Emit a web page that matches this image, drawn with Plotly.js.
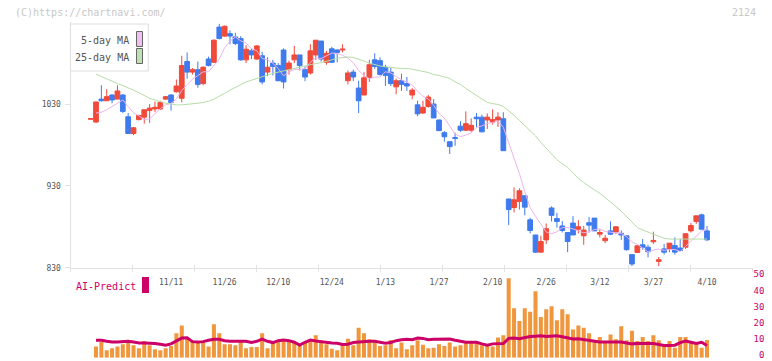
<!DOCTYPE html>
<html><head><meta charset="utf-8">
<script src="https://cdn.plot.ly/plotly-3.0.1.min.js"></script>
<style>html,body{margin:0;padding:0;background:#fff;}#chart{width:772px;height:361px;}</style>
</head><body><div id="chart"></div>
<script>
// ---- data (first entry is a lone doji before the visible window) ----
const dateLabels = ['11/11','11/26','12/10','12/24','1/13','1/27','2/10','2/26','3/12','3/27','4/10'];
const dateLabelDay = [15,25,35,45,55,65,75,85,95,105,115];

const open = [1011.5,
 1008,1036,1034,1041,1036,1041,1014.5,994,1011,1014,
 1022,1024,1024,1036,1041,1045,1037,1082,1069,1072,
 1055,1085,1081,1124,1113,1116,1112,1110,1084,1095,
 1085,1089,1069,1080,1077,1096,1072,1084,1090,1072,
 1068,1090,1107,1081,1097.5,1096,1096,1058.5,1069,1049.5,
 1041,1062.5,1084,1083,1075,1069,1051,1058.5,1055,1041,
 1029,1019,1027,1030,1010.5,995,984,989,1003,998,
 998,1014,1014,1010.5,1008,1010.5,1012,914,903.6,911,
 918,888.5,870,849,864,903,890,881,873,884.5,
 877,869,885,890.6,871,863,875,873.5,872,869,
 846,848.7,858,855,861.7,837.7,853,853,857,854,
 855,875,886.5,894.6,875];
const high = [1012,
 1033,1053,1048,1042,1053,1042,1019,1002,1017,1023,
 1030,1033,1034,1040,1042,1060,1089,1093,1074,1082,
 1076,1088,1109,1128,1126,1120,1117,1113,1102,1098,
 1102,1094,1087,1084,1080,1098,1083,1101,1090,1076,
 1103,1108,1107,1095,1100,1097,1103,1071,1072,1058.5,
 1069,1084,1092,1087,1078,1075,1061,1067,1063,1049.5,
 1034,1034,1041,1036,1011,997,984,995,1009,1021,
 1012.5,1019,1017,1018.6,1023.5,1020,1020,914,928,927,
 918,891,870,869,884,905,897,887,873,893,
 888,881,892,890.6,877,870,886.5,881,875.5,869,
 846,857,865,858,874,843,859,860,867,865,
 872,884.5,893.4,896,881];
const low = [1011.5,
 1007,1033,1034,1031,1036,1019,994,992,1010,1006,
 1007,1020,1023,1035,1022,1044,1032,1061,1066,1050,
 1053,1076,1080,1109,1112,1103,1102,1083,1080,1085,
 1084,1054,1064,1065,1058,1049,1066,1080,1071,1058,
 1066,1084,1082,1078,1080,1081,1093,1054,1058,1019,
 1041,1057,1073,1065,1052,1052,1042,1046,1046,1036,
 1015,1018,1025.5,1013,997,984,969,979,996,997,
 996,1001.5,996,999.5,1005,1002,973,882,897.5,901,
 894,872,848,849,859,886.5,879,873,849,870,
 872,858,873,875,867,860,870,871,864,851,
 832,848,852,842.6,859,832,846,849,846,850,
 853,873,883.6,877,863];
const close = [1012,
 1032.5,1034,1039,1035,1046,1021,994,1001,1016,1023,
 1025,1026,1032,1039,1032,1052,1077,1069,1072,1054,
 1075,1077,1108,1110,1125,1113,1104,1084,1097,1090,
 1101,1057,1075,1076,1058.5,1057,1080,1090,1077,1063,
 1095,1108,1085,1092,1081,1093,1097,1068,1063,1034,
 1062,1078,1076,1066,1065,1055,1058.5,1054,1052,1047,
 1018,1026,1038.5,1013,997.5,990,978,988,998,1006,
 1004,1012,996,1014,1011,1014,973,901,913,924,
 904,875.5,849,862,877.6,894,886.5,875.5,862,870,
 880,876,882,875,873,866,871,880,870,852,
 834.5,856.8,855,849.5,863.3,839.7,849,860,849,851,
 871.5,881.6,893.4,877,864];
const ma5 = [null,
 1019,1020,1023,1027,1032,1035,1027,1019.4,1015.6,1011,
 1011.8,1018.2,1024.4,1029,1030.8,1036.2,1046.4,1053.8,1060.4,1064.8,
 1069.4,1069.4,1077.2,1084.8,1099,1106.6,1112,1107.2,1104.6,1097.6,
 1095.2,1085.8,1084,1079.8,1073.4,1064.6,1069.2,1072.2,1072.4,1073.4,
 1081,1086.6,1085.6,1088.6,1092.2,1091.8,1089.6,1086.2,1080.4,1071,
 1064.8,1061,1062.6,1063.2,1069.4,1068,1064,1059.6,1056.8,1053.2,
 1045.8,1039.4,1036.2,1028.4,1018.4,1012.8,1003.2,993.2,990.2,992,
 994.8,1001.6,1003.2,1006.4,1007.4,1009.4,1001.6,982.6,962.4,945,
 923,903.4,893,882.8,873.6,871.6,873.8,879,879,877.4,
 874.6,872.6,874,876.6,877.2,874.4,873.4,873,872,867.8,
 861.4,858.6,853.6,849.4,851.6,852.8,851.2,852.2,852.2,849.8,
 856,862.6,869.2,874.8,877.4];
const ma25 = [null,
 1066.6,1063.5,1060.5,1057.5,1055,1052.5,1050,1047,1044,1040.5,
 1037,1035,1033,1031,1030,1029,1029,1029.5,1030,1031,
 1032,1033.5,1036,1039,1043,1047,1050.5,1054.5,1057,1059,
 1061.5,1063.5,1065.5,1067.5,1069,1070.5,1072.5,1074,1075.5,1077,
 1078.5,1079.5,1080.5,1082,1084,1086,1087,1087.5,1087,1085,
 1082.5,1080,1078,1076.5,1075.5,1074.5,1074,1073.5,1073.5,1072.5,
 1071,1069.5,1068.5,1066,1065,1063,1061.3,1057,1054,1049,
 1045,1041,1036,1032,1030.5,1029.5,1027,1022,1016,1010,
 1004,998,991,983,976,969,962,957,952.5,946,
 939,934,929,925,921,916,911,905,899,893,
 886,879,876,873.5,871,868,866,865,865,865,
 865,865,865,865,865];
const volume = [null,
 7.0,9.7,4.7,5.8,7.0,8.3,10.8,7.7,5.8,10.4,
 7.7,5.2,4.6,5.8,7.2,15.2,20.1,12.8,10.2,9.4,
 9.4,6.9,20.8,15.2,8.3,8.3,7.7,9.7,5.8,6.6,
 6.6,15.2,5.8,9.4,10,10.8,10.4,9.4,8.3,9.4,
 10.8,13.9,10.4,8.3,5.6,4.7,7.7,11.8,7.7,18.7,
 15.2,11.4,9.7,7.2,7.7,11,5.8,9.4,5.2,7.7,
 10.8,8.1,5.8,6.2,8.3,7.2,9.4,6.9,7.7,9.4,
 10.4,9.7,7.7,7.7,6.9,12.5,13.9,49.4,30.7,22.8,
 30.7,28.6,41.3,25.3,30.1,32,23.3,30.1,27,17.6,
 20.1,18.7,15.2,10.8,12.8,10.4,14.5,11.4,19.5,10.8,
 16.7,10.4,12.8,10.4,13.9,10.8,7.7,10.4,6.2,12.8,
 12.8,9.4,9.4,6.2,11];
const aiPredict = [null,
 10.8,10.8,10.2,9.7,9.7,10,10.2,9.7,9.2,9.2,
 9.2,8.8,8.3,7.7,8.6,10.2,12.2,12.4,10,9.7,
 10,10.8,11.5,11.5,10.6,10.2,10.2,10.2,10.2,9.4,
 10.2,11.6,10.2,9.4,10.6,11,10.6,9.6,7.8,9.6,
 11,10.4,10,9.2,9.2,9,8.2,8.4,9.4,9.8,
 10.2,10.2,10.2,9.8,9,9.4,10.6,11.2,11.5,11.2,
 12.2,12,11.2,11.4,11.6,11.6,11.6,10.8,10,9.6,
 9.6,9.6,8.6,7.8,8.6,8.8,8.8,12,12.2,11.8,
 12.6,13.2,13.4,13.6,13.2,13.2,13.6,13,12.2,11.6,
 11.8,11.2,10.6,10,9.8,9.8,9.8,10.2,9.8,9.2,
 8.6,8.8,8.8,8.8,8.8,8.2,7.6,7.6,7.8,9.4,
 10.4,9.6,8.8,9.6,7.6];
const priceTicks = [830, 930, 1030];
const volTicks = [0, 10, 20, 30, 40, 50];
const volTickText = ['\u20070', '10', '20', '30', '40', '50'];

// ---- layout helpers ----
const W = 772, H = 361;
const px = v => v / W, py = v => 1 - v / H;
const day = open.map((_, k) => k);
const xRange = [-3.76, 123.49];
const markVals = [];
for (let k = 0; k <= 11; k++) markVals.push(xRange[0] + k * (xRange[1] - xRange[0]) / 11);
const mono = 'DejaVu Sans Mono';
const xDom = [px(70.5), px(752.5)];
const RED = '#f04a3a', BLUE = '#3f7bee';

const traces = [
  {type: 'candlestick', x: day, open, high, low, close, xaxis: 'x', yaxis: 'y',
   increasing: {line: {color: RED, width: 1}, fillcolor: RED},
   decreasing: {line: {color: BLUE, width: 1}, fillcolor: BLUE},
   whiskerwidth: 0, hoverinfo: 'skip', showlegend: false},
  {type: 'scatter', mode: 'lines', x: day, y: ma5, xaxis: 'x3', yaxis: 'y',
   line: {color: '#ecb4ec', width: 1}, hoverinfo: 'skip', showlegend: false},
  {type: 'scatter', mode: 'lines', x: day, y: ma25, xaxis: 'x4', yaxis: 'y',
   line: {color: '#b6dca6', width: 1}, hoverinfo: 'skip', showlegend: false},
  {type: 'bar', x: day, y: volume, xaxis: 'x2', yaxis: 'y2',
   marker: {color: '#f0963c', line: {width: 0}}, hoverinfo: 'skip', showlegend: false},
  {type: 'scatter', mode: 'lines', x: day, y: aiPredict, xaxis: 'x2', yaxis: 'y2',
   line: {color: '#cc0066', width: 3}, hoverinfo: 'skip', showlegend: false}
];

const layout = {
  width: W, height: H, margin: {l: 0, r: 0, t: 0, b: 0},
  paper_bgcolor: '#fff', plot_bgcolor: 'rgba(0,0,0,0)',
  showlegend: false, bargap: 0.25, boxgap: 0.12, boxgroupgap: 0,
  xaxis: {domain: xDom, range: xRange, anchor: 'y', showline: true, linecolor: '#e2e2e2', linewidth: 1,
    ticks: 'outside', ticklen: 3, tickcolor: '#e2e2e2', tickvals: markVals, showticklabels: false,
    showgrid: false, zeroline: false, rangeslider: {visible: false}, fixedrange: true},
  xaxis3: {overlaying: 'x', anchor: 'y', range: xRange, tickvals: dateLabelDay, ticktext: dateLabels,
    ticks: '', showline: false, showgrid: false, zeroline: false, ticklabelstandoff: 8,
    tickfont: {family: mono, size: 8, color: '#555'}, fixedrange: true},
  xaxis4: {overlaying: 'x', anchor: 'y', range: xRange, tickvals: markVals, ticks: 'inside', ticklen: 3,
    tickcolor: '#e2e2e2', showticklabels: false, showline: false, showgrid: false, zeroline: false, fixedrange: true},
  yaxis: {domain: [py(267.7), py(22.2)], range: [830, 1130], anchor: 'x', showline: true, linecolor: '#e2e2e2',
    linewidth: 1, ticks: 'outside', ticklen: 5, tickcolor: '#e2e2e2', tickvals: priceTicks,
    ticklabelstandoff: 2,
    tickfont: {family: mono, size: 8, color: '#555'}, showgrid: false, zeroline: false, fixedrange: true},
  xaxis2: {domain: xDom, range: xRange, anchor: 'y2', visible: false, fixedrange: true},
  yaxis2: {domain: [py(357.7), py(277.3)], range: [0, 50], anchor: 'x2', side: 'right',
    tickvals: volTicks, ticktext: volTickText, ticks: '', showline: false, showgrid: false, zeroline: false,
    ticklabeloverflow: 'allow', ticklabelshift: -3,
    tickfont: {family: mono, size: 9, color: '#cc0066'}, fixedrange: true},
  shapes: [
    {type: 'rect', xref: 'paper', yref: 'paper', x0: px(70.5), x1: px(148.3), y0: py(71), y1: py(24),
     line: {color: '#dddddd', width: 1}, fillcolor: '#ffffff', layer: 'above'},
    {type: 'rect', xref: 'paper', yref: 'paper', x0: px(136.5), x1: px(142.5), y0: py(46.5), y1: py(31.5),
     line: {color: '#666', width: 1}, fillcolor: '#f0c0f0', layer: 'above'},
    {type: 'rect', xref: 'paper', yref: 'paper', x0: px(136.5), x1: px(142.5), y0: py(63.5), y1: py(48.5),
     line: {color: '#666', width: 1}, fillcolor: '#bfe0b2', layer: 'above'},
    {type: 'rect', xref: 'paper', yref: 'paper', x0: px(142), x1: px(149), y0: py(293), y1: py(277),
     line: {width: 0}, fillcolor: '#cc0066', layer: 'above'}
  ],
  annotations: [
    {xref: 'paper', yref: 'paper', x: px(13), y: py(12), xanchor: 'left', yanchor: 'middle', showarrow: false,
     text: '(C)https://chartnavi.com/', font: {family: mono, size: 10, color: '#c8c8c8'}},
    {xref: 'paper', yref: 'paper', x: px(758), y: py(12), xanchor: 'right', yanchor: 'middle', showarrow: false,
     text: '2124', font: {family: mono, size: 10, color: '#c8c8c8'}},
    {xref: 'paper', yref: 'paper', x: px(131), y: py(40), xanchor: 'right', yanchor: 'middle', showarrow: false,
     text: '5-day MA', font: {family: mono, size: 10, color: '#555'}},
    {xref: 'paper', yref: 'paper', x: px(131), y: py(57), xanchor: 'right', yanchor: 'middle', showarrow: false,
     text: '25-day MA', font: {family: mono, size: 10, color: '#555'}},
    {xref: 'paper', yref: 'paper', x: px(74), y: py(286), xanchor: 'left', yanchor: 'middle', showarrow: false,
     text: 'AI-Predict', font: {family: mono, size: 10, color: '#cc0066'}}
  ]
};

Plotly.newPlot('chart', traces, layout, {staticPlot: true, displayModeBar: false});
</script></body></html>
